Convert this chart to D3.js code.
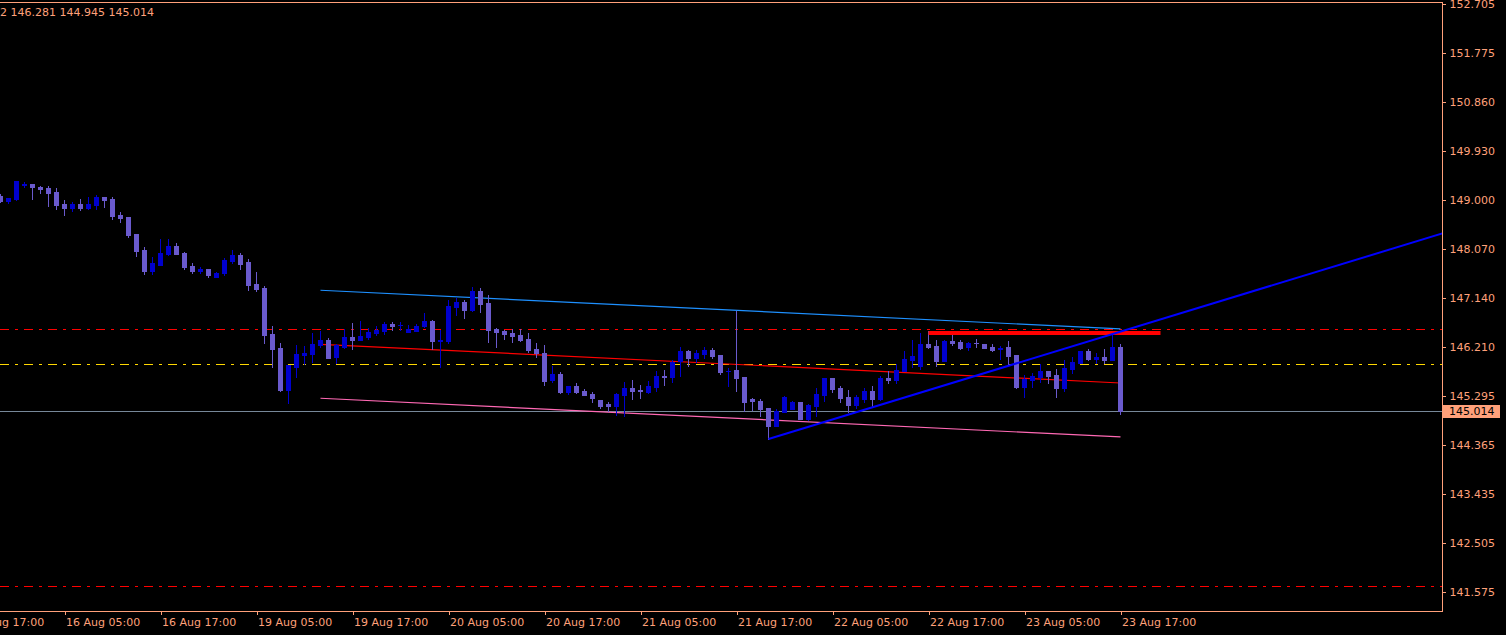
<!DOCTYPE html>
<html><head><meta charset="utf-8">
<script src="https://cdn.jsdelivr.net/npm/d3@7"></script>
<style>html,body{margin:0;padding:0;background:#000;overflow:hidden}svg{display:block}</style>
</head><body><svg id="c" width="1506" height="635"></svg>
<script>
// ---- data (USDJPY H1) ----
const opens = [149.078,148.978,149.016,149.290,149.300,149.249,149.224,149.148,148.921,148.851,
148.921,148.851,148.902,149.048,149.016,148.708,148.676,148.354,148.051,147.660,
147.767,147.981,148.127,147.989,147.749,147.660,147.692,147.541,147.622,147.843,
147.957,147.824,147.408,147.332,146.462,146.197,145.403,145.838,146.059,146.090,
146.254,146.349,146.027,146.222,146.400,146.349,146.405,146.475,146.519,146.651,
146.627,146.506,146.519,146.619,146.708,146.336,146.330,146.973,147.067,146.916,
147.276,147.049,146.551,146.519,146.481,146.443,146.367,146.178,146.103,145.592,
145.705,145.365,145.478,145.384,145.327,145.214,145.138,145.100,145.308,145.441,
145.403,145.365,145.459,145.667,145.648,145.951,146.140,146.008,146.084,146.159,
146.065,145.762,145.781,145.648,145.233,145.195,145.062,144.722,144.986,145.043,
145.176,144.854,145.100,145.308,145.630,145.441,145.270,145.119,145.233,145.384,
145.233,145.630,145.592,145.762,145.970,145.856,146.273,146.235,145.951,146.330,
146.311,146.216,146.292,146.273,146.216,146.178,146.216,146.065,145.459,145.592,
145.648,145.762,145.686,145.441,145.799,145.913,146.140,145.989,146.027,145.970,
146.212];
const highs = [149.110,149.035,149.357,149.338,149.300,149.268,149.262,149.224,148.997,148.959,
149.016,149.048,149.086,149.048,149.048,148.764,148.676,148.354,148.108,147.913,
148.254,148.254,148.190,148.013,147.800,147.730,147.692,147.641,147.905,148.051,
147.989,147.881,147.635,147.370,146.614,146.292,145.870,146.248,146.235,146.475,
146.525,146.381,146.273,146.551,146.679,146.708,146.581,146.614,146.689,146.684,
146.689,146.627,146.646,146.859,146.727,146.538,147.105,147.143,147.105,147.346,
147.332,147.200,146.576,146.538,146.557,146.557,146.481,146.292,146.254,145.847,
145.743,145.478,145.535,145.422,145.365,145.214,145.176,145.346,145.554,145.592,
145.497,145.573,145.762,145.781,145.970,146.216,146.159,146.159,146.216,146.197,
146.065,145.819,146.897,145.648,145.251,145.233,145.062,145.043,145.289,145.195,
145.176,145.138,145.441,145.630,145.630,145.478,145.403,145.308,145.441,145.478,
145.667,145.762,145.894,146.140,146.349,146.481,146.519,146.349,146.349,146.481,
146.349,146.311,146.367,146.273,146.273,146.235,146.330,146.065,145.686,145.724,
145.894,145.762,145.799,145.970,146.027,146.140,146.178,146.103,146.178,146.500,
146.281];
const lows = [148.959,148.940,149.003,149.238,149.016,149.135,148.889,148.832,148.719,148.783,
148.813,148.827,148.827,148.870,148.643,148.587,148.303,147.943,147.603,147.603,
147.767,147.951,147.981,147.692,147.617,147.617,147.546,147.541,147.579,147.811,
147.698,147.295,147.276,146.298,145.843,145.384,145.151,145.643,145.889,145.938,
146.222,146.014,145.919,146.203,146.184,146.349,146.367,146.443,146.462,146.538,
146.538,146.506,146.519,146.600,146.178,145.832,146.286,146.822,146.770,146.903,
146.878,146.311,146.222,146.367,146.311,146.330,146.121,146.027,145.497,145.554,
145.346,145.327,145.346,145.308,145.176,145.062,145.005,144.930,144.911,145.233,
145.251,145.346,145.384,145.497,145.554,145.667,145.856,145.932,146.008,146.008,
145.705,145.478,145.384,145.005,145.024,144.911,144.476,144.722,144.986,145.043,
144.854,144.835,144.911,145.195,145.365,145.176,144.986,145.062,145.176,145.100,
145.214,145.535,145.535,145.762,145.838,145.799,146.197,145.856,145.951,146.254,
146.178,146.159,146.216,146.197,146.140,145.989,145.894,145.441,145.270,145.459,
145.554,145.535,145.270,145.384,145.724,145.913,145.970,145.913,145.913,145.970,
144.945];
const closes = [148.978,149.035,149.357,149.295,149.249,149.211,149.135,148.908,148.851,148.921,
148.851,148.921,149.048,149.003,148.700,148.657,148.341,148.038,147.660,147.800,
147.989,148.127,147.981,147.730,147.660,147.698,147.585,147.611,147.862,147.957,
147.786,147.389,147.313,146.449,146.178,145.403,145.870,146.084,146.103,146.273,
146.349,146.014,146.248,146.400,146.349,146.424,146.500,146.538,146.651,146.619,
146.632,146.557,146.619,146.702,146.330,146.349,146.992,147.067,146.916,147.270,
147.030,146.538,146.506,146.462,146.424,146.349,146.159,146.103,145.573,145.705,
145.365,145.478,145.365,145.308,145.251,145.100,145.100,145.327,145.441,145.384,
145.384,145.478,145.667,145.654,145.932,146.140,146.008,146.103,146.159,146.046,
145.743,145.765,145.630,145.176,145.195,145.043,144.722,145.005,145.270,145.176,
144.854,145.119,145.327,145.630,145.422,145.251,145.119,145.270,145.384,145.233,
145.630,145.592,145.781,145.989,146.046,146.273,146.216,145.951,146.330,146.292,
146.197,146.292,146.286,146.197,146.159,146.197,146.046,145.459,145.611,145.667,
145.762,145.667,145.441,145.819,145.932,146.140,145.989,146.027,145.970,146.216,
145.014];

const tickLabels = ["15 Aug 17:00","16 Aug 05:00","16 Aug 17:00","19 Aug 05:00","19 Aug 17:00",
"20 Aug 05:00","20 Aug 17:00","21 Aug 05:00","21 Aug 17:00","22 Aug 05:00","22 Aug 17:00",
"23 Aug 05:00","23 Aug 17:00"];
const priceTicks = [152.705,151.775,150.860,149.930,149.000,148.070,147.140,146.210,145.295,144.365,143.435,142.505,141.575];
const headerText = "2 146.281 144.945 145.014";
const bidPrice = 145.014;
const levelPrices = [146.547, 145.889, 141.689];
const levelColors = ["#ff0000", "#ffd700", "#ff0000"];
const channelBars = [40, 140];
const channelUpper = [147.289, 146.557];
const channelMid = [146.267, 145.535];
const channelLower = [145.246, 144.514];
const trendBars = [96, 140];
const trendPrices = [144.476, 146.507];
const resistBars = [116, 145];
const resistPrice = 146.481;

// ---- bar times (H1, weekend skipped), axis starts 4 bars before first data bar ----
const months = ["Jan","Feb","Mar","Apr","May","Jun","Jul","Aug","Sep","Oct","Nov","Dec"];
const axisTimes = [];
{
  let t = Date.UTC(2024, 7, 15, 17);
  while (axisTimes.length < 160) {
    const d = new Date(t);
    const wd = d.getUTCDay();
    if (wd !== 0 && wd !== 6) {
      axisTimes.push(String(d.getUTCDate()).padStart(2,"0") + " " + months[d.getUTCMonth()] + " " +
        String(d.getUTCHours()).padStart(2,"0") + ":00");
    }
    t += 3600000;
  }
}
const OFFSET = 4;
const bars = opens.map((o, i) => ({i, o, h: highs[i], l: lows[i], c: closes[i], t: axisTimes[i + OFFSET]}));

// ---- layout ----
const W = 1506, H = 635;
const plotL = 0, plotR = 1442, plotT = 2, plotB = 611;
const SALMON = "#ffa07a";
const FONT = "DejaVu Sans, Verdana, sans-serif";

const xs = d3.scaleLinear().domain([0, 140]).range([0.5, 1120.5]);
const ys = d3.scaleLinear().domain([141.575, 152.705]).range([592.3, 4]);

const svg = d3.select("#c");
svg.append("rect").attr("width", W).attr("height", H).attr("fill", "#000");

svg.append("defs").append("clipPath").attr("id", "plot")
  .append("rect").attr("x", plotL).attr("y", plotT).attr("width", plotR - plotL).attr("height", plotB - plotT);

const g = svg.append("g").attr("clip-path", "url(#plot)");

// horizontal dash-dot levels
g.selectAll("line.level").data(levelPrices).join("line")
  .attr("class", "level")
  .attr("x1", plotL).attr("x2", plotR)
  .attr("y1", d => Math.round(ys(d)) + 0.5).attr("y2", d => Math.round(ys(d)) + 0.5)
  .attr("stroke", (d, i) => levelColors[i]).attr("stroke-width", 1)
  .attr("stroke-dasharray", "9,6,3,6").attr("shape-rendering", "crispEdges");

// bid line
g.append("line").attr("x1", plotL).attr("x2", plotR)
  .attr("y1", Math.round(ys(bidPrice)) + 0.5).attr("y2", Math.round(ys(bidPrice)) + 0.5)
  .attr("stroke", "#778899").attr("stroke-width", 1).attr("shape-rendering", "crispEdges");

// regression channel
const chan = [[channelUpper, "#1e90ff"], [channelMid, "#ff0000"], [channelLower, "#ff69b4"]];
chan.forEach(([p, col]) => {
  g.append("line")
    .attr("x1", xs(channelBars[0])).attr("y1", ys(p[0]))
    .attr("x2", xs(channelBars[1])).attr("y2", ys(p[1]))
    .attr("stroke", col).attr("stroke-width", 1.2);
});

// candles
const BULL = "#0000cd", BEAR = "#6a5acd";
const cg = g.append("g").attr("shape-rendering", "crispEdges");
bars.forEach(b => {
  const col = b.c >= b.o ? BULL : BEAR;
  const px = Math.round(xs(b.i) - 0.5);
  cg.append("line").attr("x1", px + 0.5).attr("x2", px + 0.5)
    .attr("y1", Math.round(ys(b.h))).attr("y2", Math.round(ys(b.l)) + 1)
    .attr("stroke", col).attr("stroke-width", 1);
  const yTop = Math.round(ys(Math.max(b.o, b.c)));
  const yBot = Math.round(ys(Math.min(b.o, b.c)));
  cg.append("rect").attr("x", px - 2).attr("width", 5)
    .attr("y", yTop).attr("height", Math.max(1, yBot - yTop + 1))
    .attr("fill", col);
});

// resistance (thick red)
g.append("line")
  .attr("x1", xs(resistBars[0])).attr("x2", xs(resistBars[1]))
  .attr("y1", ys(resistPrice)).attr("y2", ys(resistPrice))
  .attr("stroke", "#ff0000").attr("stroke-width", 4);

// trend ray (blue)
{
  const slope = (trendPrices[1] - trendPrices[0]) / (trendBars[1] - trendBars[0]);
  const endBar = xs.invert(plotR + 2);
  const endPrice = trendPrices[0] + slope * (endBar - trendBars[0]);
  g.append("line")
    .attr("x1", xs(trendBars[0])).attr("y1", ys(trendPrices[0]))
    .attr("x2", xs(endBar)).attr("y2", ys(endPrice))
    .attr("stroke", "#0000ff").attr("stroke-width", 2);
}

// frame
svg.append("path")
  .attr("d", `M${plotL},${plotT + 0.5}H${plotR + 0.5}V${plotB + 0.5}H${plotL}`)
  .attr("fill", "none").attr("stroke", SALMON).attr("stroke-width", 1).attr("shape-rendering", "crispEdges");

// price axis
const yAxis = d3.axisRight(ys).tickValues(priceTicks).tickSize(3).tickPadding(4)
  .tickFormat(d3.format(".3f"));
const ya = svg.append("g").attr("transform", `translate(${plotR + 0.5},0)`).call(yAxis);
ya.select(".domain").remove();
ya.selectAll("line").attr("stroke", SALMON).attr("shape-rendering", "crispEdges");
ya.selectAll("text").attr("fill", SALMON).style("font", `11px ${FONT}`);

// time axis
const tickIdx = tickLabels.map(l => axisTimes.indexOf(l) - OFFSET);
const xAxis = d3.axisBottom(xs).tickValues(tickIdx).tickSize(3).tickPadding(4)
  .tickFormat((d, i) => tickLabels[i]);
const xa = svg.append("g").attr("transform", `translate(0,${plotB + 0.5})`).call(xAxis);
xa.select(".domain").remove();
xa.selectAll("line").attr("stroke", SALMON).attr("shape-rendering", "crispEdges");
xa.selectAll("text").attr("fill", SALMON).attr("text-anchor", "start").attr("dx", 1)
  .style("font", `11px ${FONT}`);

// bid price label
{
  const yb = Math.round(ys(bidPrice)) + 0.5;
  svg.append("rect").attr("x", plotR + 1).attr("y", yb - 6.5).attr("width", 57).attr("height", 13)
    .attr("fill", SALMON);
  svg.append("text").attr("x", plotR + 7).attr("y", yb).attr("dy", "0.35em")
    .attr("fill", "#000").style("font", `11px ${FONT}`).text(d3.format(".3f")(bidPrice));
}

// header
svg.append("text").attr("x", 0).attr("y", 16).attr("fill", SALMON)
  .style("font", `11px ${FONT}`).text(headerText);
</script>
</body></html>
